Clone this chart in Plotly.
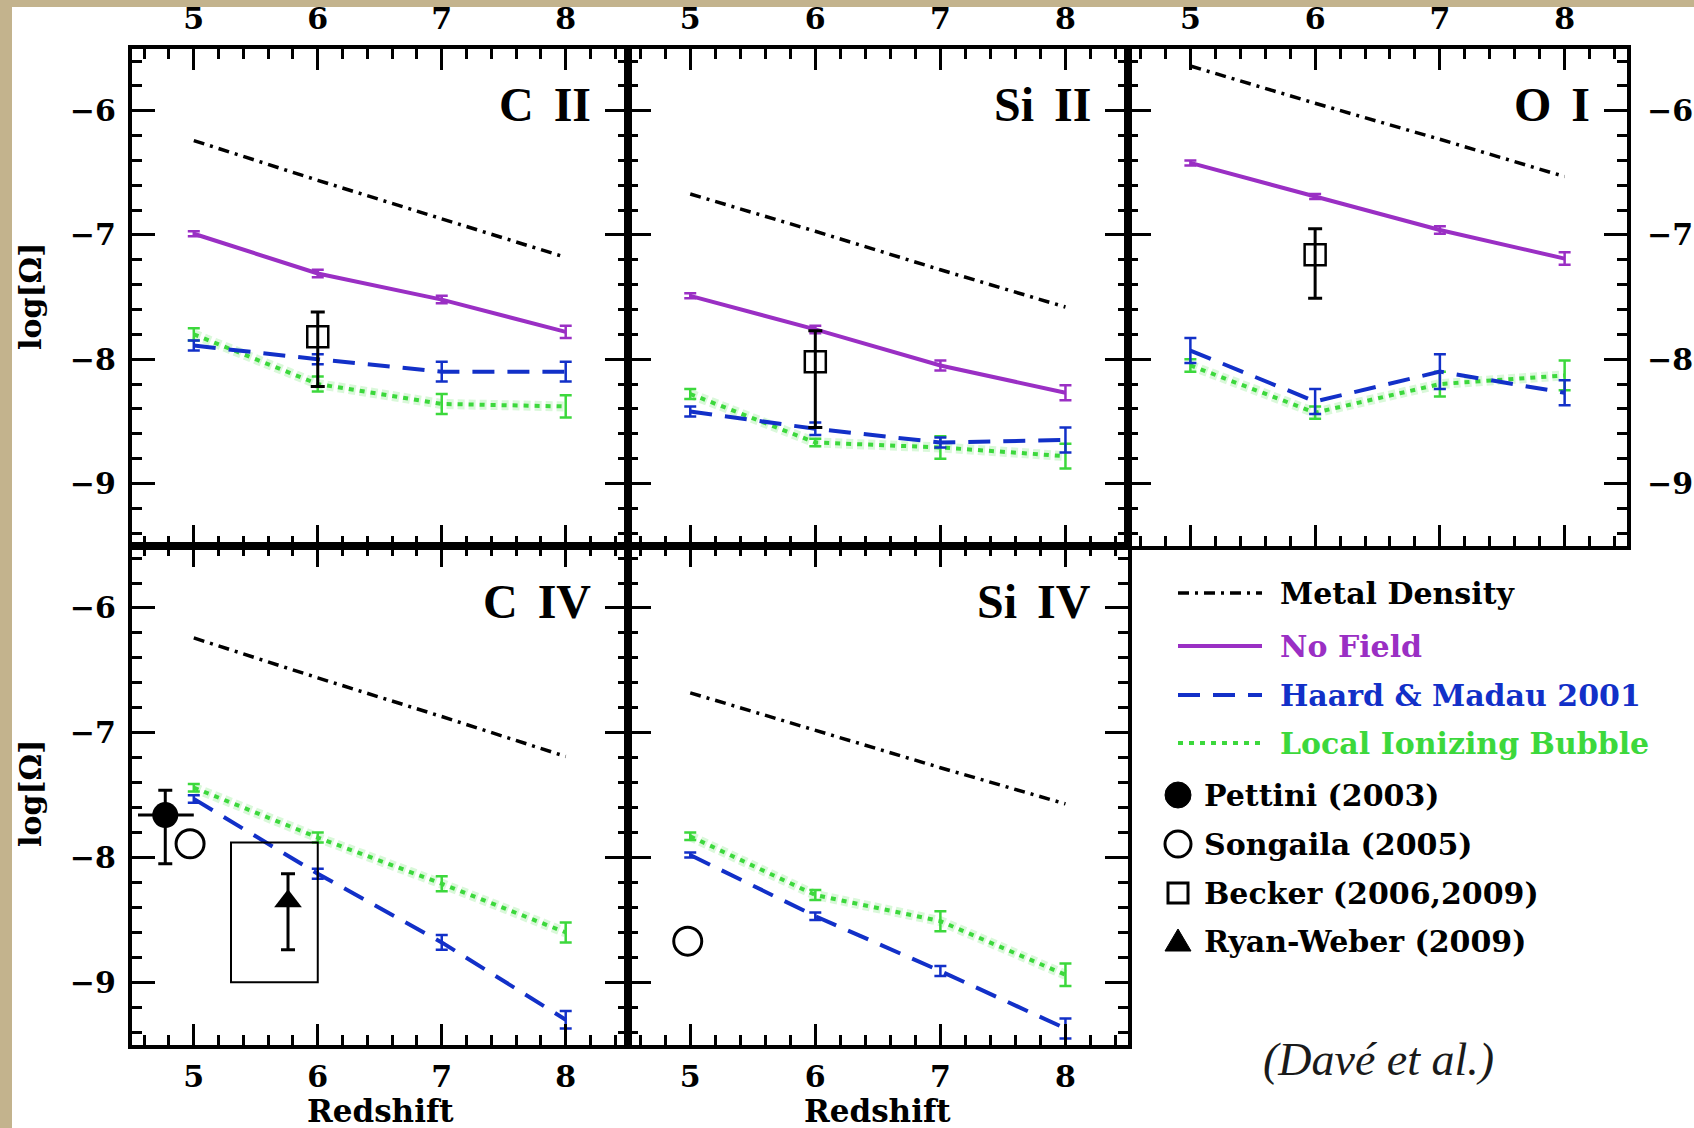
import plotly.graph_objects as go

# ---------------- data ----------------
z = [5, 6, 7, 8]

cii_metal = [-6.24, -6.56, -6.87, -7.18]
cii_nofield = [-6.99, -7.31, -7.52, -7.78]
cii_nofield_err = [0.02, 0.03, 0.03, 0.05]
cii_hm = [-7.89, -8.00, -8.10, -8.10]
cii_hm_err = [0.04, 0.04, 0.08, 0.08]
cii_lib = [-7.80, -8.20, -8.36, -8.38]
cii_lib_err = [0.05, 0.06, 0.08, 0.09]

sii_metal = [-6.67, -6.97, -7.28, -7.58]
sii_nofield = [-7.49, -7.76, -8.05, -8.27]
sii_nofield_err = [0.02, 0.03, 0.04, 0.06]
sii_hm = [-8.42, -8.56, -8.67, -8.65]
sii_hm_err = [0.04, 0.05, 0.04, 0.10]
sii_lib = [-8.28, -8.67, -8.71, -8.78]
sii_lib_err = [0.04, 0.03, 0.09, 0.10]

oi_metal = [-5.64, -5.94, -6.23, -6.53]
oi_nofield = [-6.42, -6.69, -6.96, -7.19]
oi_nofield_err = [0.02, 0.02, 0.03, 0.05]
oi_hm = [-7.93, -8.34, -8.10, -8.27]
oi_hm_err = [0.10, 0.10, 0.14, 0.10]
oi_lib = [-8.05, -8.43, -8.20, -8.13]
oi_lib_err = [0.05, 0.05, 0.10, 0.12]

civ_metal = [-6.24, -6.56, -6.87, -7.19]
civ_hm = [-7.53, -8.13, -8.68, -9.30]
civ_hm_err = [0.03, 0.04, 0.06, 0.07]
civ_lib = [-7.44, -7.84, -8.21, -8.60]
civ_lib_err = [0.03, 0.04, 0.06, 0.08]

siiv_metal = [-6.68, -6.98, -7.28, -7.57]
siiv_hm = [-7.98, -8.47, -8.91, -9.37]
siiv_hm_err = [0.02, 0.03, 0.04, 0.08]
siiv_lib = [-7.83, -8.30, -8.51, -8.94]
siiv_lib_err = [0.03, 0.04, 0.08, 0.09]

# observations
becker_cii_z, becker_cii, becker_cii_up, becker_cii_dn = [6.0], [-7.82], [0.20], [0.40]
becker_sii_z, becker_sii, becker_sii_up, becker_sii_dn = [6.0], [-8.02], [0.25], [0.53]
becker_oi_z, becker_oi, becker_oi_up, becker_oi_dn = [6.0], [-7.16], [0.21], [0.35]
pettini_z, pettini, pettini_up, pettini_dn = [4.77], [-7.66], [0.20], [0.39]
pettini_zerr_plus, pettini_zerr_minus = [0.23], [0.22]
songaila_civ_z, songaila_civ = [4.97], [-7.89]
songaila_siiv_z, songaila_siiv = [4.98], [-8.67]
ryanweber_z, ryanweber, ryanweber_up, ryanweber_dn = [5.76], [-8.35], [0.22], [0.39]
ryanweber_box_z = [5.30, 6.00]
ryanweber_box_y = [-9.00, -7.88]

panel_labels = ["C II", "Si II", "O I", "C IV", "Si IV"]
x_ticks = [5, 6, 7, 8]
y_ticks = [-6, -7, -8, -9]
series_names = ["Metal Density", "No Field", "Haard & Madau 2001", "Local Ionizing Bubble"]
obs_names = ["Pettini (2003)", "Songaila (2005)", "Becker (2006,2009)", "Ryan-Weber (2009)"]

# ---------------- styles ----------------
W, H = 1694, 1128
BLACK = "#000000"
PURPLE = "#9a2fc4"
BLUE = "#1230c8"
GREEN = "#3cd83c"
TICKFONT = dict(family="DejaVu Serif", size=30, color="black", weight="bold")

metal_line = dict(color=BLACK, width=3.5, dash="11px,6px,3px,6px")
nofield_line = dict(color=PURPLE, width=4)
hm_line = dict(color=BLUE, width=4, dash="22px,13px")
lib_line = dict(color=GREEN, width=4, dash="5px,6px")

fig = go.Figure()

# pixel geometry -> paper domains
cols_px = [(131.8, 627.7), (627.7, 1128.0), (1128.0, 1627.0)]
rows_px = [(48.6, 545.6), (545.6, 1044.7)]


def xdom(c):
    return [cols_px[c][0] / W, cols_px[c][1] / W]


def ydom(r):
    return [1 - rows_px[r][1] / H, 1 - rows_px[r][0] / H]


def err(arr, color):
    return dict(type="data", array=arr, visible=True, color=color, thickness=2.5, width=6)


def add_model(ax, metal, nofield, nofield_e, hm, hm_e, lib, lib_e):
    xa, ya = ax
    fig.add_trace(go.Scatter(x=z, y=metal, mode="lines", line=metal_line, xaxis=xa, yaxis=ya,
                             showlegend=False, hoverinfo="skip"))
    if nofield is not None:
        fig.add_trace(go.Scatter(x=z, y=nofield, mode="lines", line=nofield_line,
                                 error_y=err(nofield_e, PURPLE), xaxis=xa, yaxis=ya, showlegend=False))
    # halo for green
    fig.add_trace(go.Scatter(x=z, y=lib, mode="lines",
                             line=dict(color="rgba(120,230,120,0.28)", width=10, dash="7px,4px"),
                             xaxis=xa, yaxis=ya, showlegend=False, hoverinfo="skip"))
    fig.add_trace(go.Scatter(x=z, y=lib, mode="lines", line=lib_line,
                             error_y=err(lib_e, GREEN), xaxis=xa, yaxis=ya, showlegend=False))
    fig.add_trace(go.Scatter(x=z, y=hm, mode="lines", line=hm_line,
                             error_y=err(hm_e, BLUE), xaxis=xa, yaxis=ya, showlegend=False))


def add_becker(ax, zz, yy, up, dn):
    xa, ya = ax
    fig.add_trace(go.Scatter(x=zz, y=yy, mode="markers",
                             marker=dict(symbol="square-open", size=21, color=BLACK, line=dict(width=2.5, color=BLACK)),
                             error_y=dict(type="data", symmetric=False, array=up, arrayminus=dn,
                                          color=BLACK, thickness=3, width=7),
                             xaxis=xa, yaxis=ya, showlegend=False))


axes = [("x", "y"), ("x2", "y2"), ("x3", "y3"), ("x4", "y4"), ("x5", "y5")]

add_model(axes[0], cii_metal, cii_nofield, cii_nofield_err, cii_hm, cii_hm_err, cii_lib, cii_lib_err)
add_becker(axes[0], becker_cii_z, becker_cii, becker_cii_up, becker_cii_dn)
add_model(axes[1], sii_metal, sii_nofield, sii_nofield_err, sii_hm, sii_hm_err, sii_lib, sii_lib_err)
add_becker(axes[1], becker_sii_z, becker_sii, becker_sii_up, becker_sii_dn)
add_model(axes[2], oi_metal, oi_nofield, oi_nofield_err, oi_hm, oi_hm_err, oi_lib, oi_lib_err)
add_becker(axes[2], becker_oi_z, becker_oi, becker_oi_up, becker_oi_dn)
add_model(axes[3], civ_metal, None, None, civ_hm, civ_hm_err, civ_lib, civ_lib_err)
add_model(axes[4], siiv_metal, None, None, siiv_hm, siiv_hm_err, siiv_lib, siiv_lib_err)

# C IV observations
fig.add_trace(go.Scatter(x=pettini_z, y=pettini, mode="markers",
                         marker=dict(symbol="circle", size=26, color=BLACK),
                         error_y=dict(type="data", symmetric=False, array=pettini_up, arrayminus=pettini_dn,
                                      color=BLACK, thickness=3, width=7),
                         error_x=dict(type="data", symmetric=False, array=pettini_zerr_plus,
                                      arrayminus=pettini_zerr_minus, color=BLACK, thickness=3, width=0),
                         xaxis="x4", yaxis="y4", showlegend=False))
fig.add_trace(go.Scatter(x=songaila_civ_z, y=songaila_civ, mode="markers",
                         marker=dict(symbol="circle-open", size=28, color=BLACK, line=dict(width=3)),
                         xaxis="x4", yaxis="y4", showlegend=False))
fig.add_trace(go.Scatter(x=ryanweber_z, y=ryanweber, mode="markers",
                         marker=dict(symbol="triangle-up", size=24, color=BLACK),
                         error_y=dict(type="data", symmetric=False, array=ryanweber_up, arrayminus=ryanweber_dn,
                                      color=BLACK, thickness=3, width=7),
                         xaxis="x4", yaxis="y4", showlegend=False))
fig.add_shape(type="rect", xref="x4", yref="y4",
              x0=ryanweber_box_z[0], x1=ryanweber_box_z[1], y0=ryanweber_box_y[0], y1=ryanweber_box_y[1],
              line=dict(color=BLACK, width=2))
# Si IV observation
fig.add_trace(go.Scatter(x=songaila_siiv_z, y=songaila_siiv, mode="markers",
                         marker=dict(symbol="circle-open", size=28, color=BLACK, line=dict(width=3)),
                         xaxis="x5", yaxis="y5", showlegend=False))

# ---------------- axes ----------------
cells = [(0, 0), (0, 1), (0, 2), (1, 0), (1, 1)]
layout_axes = {}
for i, (r, c) in enumerate(cells):
    n = "" if i == 0 else str(i + 1)
    common = dict(showline=True, linewidth=4, linecolor=BLACK, mirror="allticks",
                  ticks="inside", ticklen=21, tickwidth=3, tickcolor=BLACK,
                  showgrid=False, zeroline=False, tickfont=TICKFONT, fixedrange=True)
    xa = dict(common, domain=xdom(c), range=[4.5, 8.5], tickvals=x_ticks,
              ticktext=[str(t) for t in x_ticks],
              minor=dict(dtick=0.2, tick0=0, ticks="inside", ticklen=10, tickwidth=3, tickcolor=BLACK),
              anchor="y" + n)
    if r == 0:
        xa.update(side="top", showticklabels=True, ticklabelstandoff=4)
    else:
        xa.update(side="bottom", showticklabels=True, ticklabelstandoff=2)
    ya = dict(common, domain=ydom(r), range=[-9.5, -5.5], tickvals=y_ticks,
              ticktext=["\u2212" + str(-t) for t in y_ticks],
              minor=dict(dtick=0.2, tick0=0, ticks="inside", ticklen=10, tickwidth=3, tickcolor=BLACK),
              anchor="x" + n)
    ya["ticklen"] = 23
    if c == 0:
        ya.update(side="left", showticklabels=True, ticklabelstandoff=6)
    elif c == 2:
        ya.update(side="right", showticklabels=True, ticklabelstandoff=10)
    else:
        ya.update(showticklabels=False)
    layout_axes["xaxis" + n] = xa
    layout_axes["yaxis" + n] = ya

fig.update_layout(**layout_axes)

# panel labels
for i, lab in enumerate(panel_labels):
    n = "" if i == 0 else str(i + 1)
    fig.add_annotation(x=8.22, y=-5.95, xref="x" + n, yref="y" + n, text=lab.replace(" ", "\u00a0\u2006"),
                       showarrow=False, xanchor="right", yanchor="middle",
                       font=dict(family="Liberation Serif", size=48, color=BLACK, weight="bold"))

# axis titles
for yc in [1 - 297 / H, 1 - 794 / H]:
    fig.add_annotation(x=30 / W, y=yc, xref="paper", yref="paper", text="log[\u03a9]", textangle=-90,
                       showarrow=False, xanchor="center", yanchor="middle",
                       font=dict(family="DejaVu Serif", size=30, color=BLACK, weight="bold"))
for xc in [380 / W, 877 / W]:
    fig.add_annotation(x=xc, y=1 - 1111 / H, xref="paper", yref="paper", text="Redshift",
                       showarrow=False, xanchor="center", yanchor="middle",
                       font=dict(family="DejaVu Serif", size=31, color=BLACK, weight="bold"))

# ---------------- legend (drawn) ----------------
leg_line_x0, leg_line_x1 = 1178 / W, 1262 / W
leg_text_x = 1278 / W
leg_rows = [593, 646, 695, 743]
leg_styles = [metal_line, nofield_line, hm_line, lib_line]
leg_colors = [BLACK, PURPLE, BLUE, GREEN]
for name, ypx, st, colr in zip(series_names, leg_rows, leg_styles, leg_colors):
    yp = 1 - ypx / H
    fig.add_shape(type="line", xref="paper", yref="paper", x0=leg_line_x0, x1=leg_line_x1, y0=yp, y1=yp,
                  line=dict(color=st["color"], width=st["width"], dash=st.get("dash", "solid")))
    fig.add_annotation(x=leg_text_x, y=yp, xref="paper", yref="paper", text=name, showarrow=False,
                       xanchor="left", yanchor="middle",
                       font=dict(family="DejaVu Serif", size=30, color=colr, weight="bold"))

obs_rows = [795, 844, 893, 941]
sym_cx = 1178
for k, (name, ypx) in enumerate(zip(obs_names, obs_rows)):
    yp = 1 - ypx / H
    if k == 0:
        rr = 13
        fig.add_shape(type="circle", xref="paper", yref="paper", x0=(sym_cx - rr) / W, x1=(sym_cx + rr) / W,
                      y0=1 - (ypx + rr) / H, y1=1 - (ypx - rr) / H, fillcolor=BLACK, line=dict(color=BLACK, width=1))
    elif k == 1:
        rr = 13
        fig.add_shape(type="circle", xref="paper", yref="paper", x0=(sym_cx - rr) / W, x1=(sym_cx + rr) / W,
                      y0=1 - (ypx + rr) / H, y1=1 - (ypx - rr) / H, line=dict(color=BLACK, width=3))
    elif k == 2:
        rr = 10
        fig.add_shape(type="rect", xref="paper", yref="paper", x0=(sym_cx - rr) / W, x1=(sym_cx + rr) / W,
                      y0=1 - (ypx + rr) / H, y1=1 - (ypx - rr) / H, line=dict(color=BLACK, width=3))
    else:
        p = "M {:.5f},{:.5f} L {:.5f},{:.5f} L {:.5f},{:.5f} Z".format(
            (sym_cx - 13) / W, 1 - (ypx + 10) / H, (sym_cx + 13) / W, 1 - (ypx + 10) / H,
            sym_cx / W, 1 - (ypx - 12) / H)
        fig.add_shape(type="path", xref="paper", yref="paper", path=p, fillcolor=BLACK,
                      line=dict(color=BLACK, width=1))
    fig.add_annotation(x=1202 / W, y=yp, xref="paper", yref="paper", text=name, showarrow=False,
                       xanchor="left", yanchor="middle",
                       font=dict(family="DejaVu Serif", size=30, color=BLACK, weight="bold"))

fig.add_annotation(x=1378 / W, y=1 - 1059 / H, xref="paper", yref="paper", text="<i>(Davé et al.)</i>",
                   showarrow=False, xanchor="center", yanchor="middle",
                   font=dict(family="Liberation Serif", size=46, color="#1a1a1a"))

# background: tan border with white sheet
fig.add_shape(type="rect", xref="paper", yref="paper", x0=12 / W, x1=1.0, y0=0, y1=1 - 7 / H,
              fillcolor="white", line=dict(width=0), layer="below")

fig.update_layout(width=W, height=H, margin=dict(l=0, r=0, t=0, b=0),
                  paper_bgcolor="#c3b38d", plot_bgcolor="white", showlegend=False)

fig.write_html("out.html", config={"displayModeBar": False},
               post_script="document.body.style.margin='0px';document.body.style.overflow='hidden';")
